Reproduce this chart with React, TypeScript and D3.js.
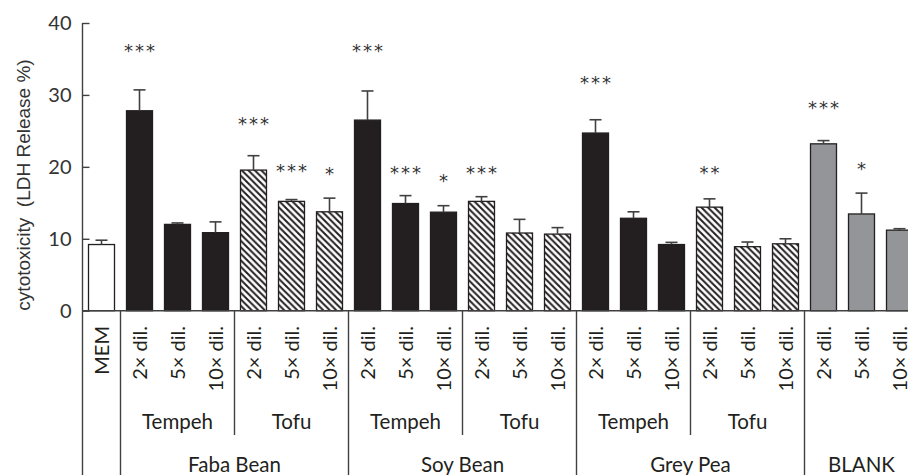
import React, { useEffect, useRef } from "react";
import * as d3 from "d3";

// dilution labels and groups
const dilutions = ["2× dil.", "5× dil.", "10× dil."];
const products = ["Tempeh", "Tofu"];
const foods = ["Faba Bean", "Soy Bean", "Grey Pea"];

// means (LDH release %) and upper error bars
const mem = [9.2];
const memErr = [0.6];
const fabaTempeh = [27.8, 12.0, 10.85];
const fabaTempehErr = [2.9, 0.2, 1.5];
const fabaTofu = [19.55, 15.2, 13.75];
const fabaTofuErr = [2.0, 0.25, 1.9];
const soyTempeh = [26.5, 14.9, 13.7];
const soyTempehErr = [4.05, 1.1, 0.9];
const soyTofu = [15.2, 10.8, 10.65];
const soyTofuErr = [0.65, 1.9, 0.9];
const greyTempeh = [24.7, 12.85, 9.2];
const greyTempehErr = [1.85, 0.9, 0.3];
const greyTofu = [14.4, 8.9, 9.3];
const greyTofuErr = [1.15, 0.65, 0.7];
const blank = [23.2, 13.45, 11.2];
const blankErr = [0.45, 2.9, 0.2];

// significance marks, and the height (in %) where each one sits
const fabaTempehSig = ["***", "", ""];
const fabaTofuSig = ["***", "***", "*"];
const soyTempehSig = ["***", "***", "*"];
const soyTofuSig = ["***", "", ""];
const greyTempehSig = ["***", "", ""];
const greyTofuSig = ["**", "", ""];
const blankSig = ["***", "*", ""];
const sigHeights = [0, 36.7, 0, 0, 26.5, 20.0, 19.6, 36.7, 19.7, 18.6, 19.7, 0, 0, 32.2, 0, 0, 19.8, 0, 0, 28.8, 20.3, 0];

const yTicks = [0, 10, 20, 30, 40];

type Bar = { idx: number; label: string; value: number; err: number; sig: string; kind: string };

function block(vals: number[], errs: number[], sig: string[], kind: string) {
  return vals.map((v, i) => ({ label: dilutions[i], value: v, err: errs[i], sig: sig[i], kind }));
}

const bars: Bar[] = [
  { label: "MEM", value: mem[0], err: memErr[0], sig: "", kind: "open" },
  ...block(fabaTempeh, fabaTempehErr, fabaTempehSig, "solid"),
  ...block(fabaTofu, fabaTofuErr, fabaTofuSig, "hatch"),
  ...block(soyTempeh, soyTempehErr, soyTempehSig, "solid"),
  ...block(soyTofu, soyTofuErr, soyTofuSig, "hatch"),
  ...block(greyTempeh, greyTempehErr, greyTempehSig, "solid"),
  ...block(greyTofu, greyTofuErr, greyTofuSig, "hatch"),
  ...block(blank, blankErr, blankSig, "gray"),
].map((b, i) => ({ ...b, idx: i }));

const W = 908, H = 475;
const ink = "#231f20";
const lineCol = "#404040";
const fills: Record<string, string> = { open: "#ffffff", solid: ink, hatch: "url(#hatch)", gray: "#939598" };

export default function App() {
  const ref = useRef<SVGSVGElement>(null);

  useEffect(() => {
    const svg = d3.select(ref.current);
    svg.selectAll("*").remove();

    const axisX = 82.5, y0 = 310.7, yTop = 23;
    const x = d3.scaleBand<number>().domain(d3.range(bars.length)).range([axisX, axisX + 38 * bars.length])
      .paddingInner(0.316).paddingOuter(0.158);
    const y = d3.scaleLinear().domain([0, 40]).range([y0, yTop]);
    const cx = (i: number) => (x(i) as number) + x.bandwidth() / 2;
    const step = x.step();

    const defs = svg.append("defs");
    const pat = defs.append("pattern").attr("id", "hatch").attr("patternUnits", "userSpaceOnUse")
      .attr("width", 6.5).attr("height", 6.5);
    pat.append("rect").attr("width", 6.5).attr("height", 6.5).attr("fill", "#fff");
    pat.append("path").attr("d", "M-1,-1L7.5,7.5M-1,5.5L1,7.5M5.5,-1L7.5,1")
      .attr("stroke", ink).attr("stroke-width", 2);

    const g = svg.append("g");

    // bars
    g.selectAll("rect.bar").data(bars).join("rect").attr("class", "bar")
      .attr("x", d => x(d.idx) as number)
      .attr("y", d => y(d.value))
      .attr("width", x.bandwidth())
      .attr("height", d => y0 - y(d.value))
      .attr("fill", d => fills[d.kind])
      .attr("stroke", ink).attr("stroke-width", 1.3);

    // error bars (upper only)
    const eg = g.selectAll("g.err").data(bars).join("g").attr("class", "err")
      .attr("stroke", lineCol).attr("stroke-width", 1.6);
    eg.append("line").attr("x1", d => cx(d.idx)).attr("x2", d => cx(d.idx))
      .attr("y1", d => y(d.value)).attr("y2", d => y(d.value + d.err));
    eg.append("line").attr("x1", d => cx(d.idx) - 6).attr("x2", d => cx(d.idx) + 6)
      .attr("y1", d => y(d.value + d.err)).attr("y2", d => y(d.value + d.err));

    // significance stars
    g.selectAll("text.sig").data(bars.filter(d => d.sig !== "")).join("text").attr("class", "sig")
      .attr("x", d => cx(d.idx) + 1)
      .attr("y", d => y(sigHeights[d.idx]))
      .attr("dy", "0.57em")
      .attr("text-anchor", "middle")
      .attr("font-family", "DejaVu Sans")
      .attr("font-size", 18)
      .attr("letter-spacing", 2)
      .attr("fill", "#333")
      .text(d => d.sig);

    // y axis
    const ya = g.append("g").attr("transform", `translate(${axisX},0)`)
      .call(d3.axisLeft(y).tickValues(yTicks).tickSizeInner(-7).tickSizeOuter(0).tickPadding(11));
    ya.select(".domain").remove();
    ya.selectAll(".tick line").attr("stroke", lineCol).attr("stroke-width", 1.4);
    ya.selectAll(".tick text").attr("font-family", "Lato").attr("font-size", 20).attr("fill", "#333");

    g.append("line").attr("x1", axisX).attr("x2", axisX).attr("y1", yTop).attr("y2", H)
      .attr("stroke", lineCol).attr("stroke-width", 1.4);
    g.append("line").attr("x1", axisX).attr("x2", W).attr("y1", y0).attr("y2", y0)
      .attr("stroke", lineCol).attr("stroke-width", 1.4);

    g.append("text").attr("transform", "translate(30,185) rotate(-90)")
      .attr("text-anchor", "middle").attr("font-family", "Liberation Sans, Arial")
      .attr("font-size", 19).attr("fill", "#333")
      .style("white-space", "pre")
      .text("cytotoxicity  (LDH Release %)");

    // bar labels (rotated)
    g.selectAll("text.bl").data(bars).join("text").attr("class", "bl")
      .attr("transform", d => `translate(${cx(d.idx) + 7.5},326) rotate(-90)`)
      .attr("text-anchor", "end").attr("font-family", "Lato").attr("font-size", 20)
      .attr("fill", ink).text(d => d.label);

    // separators: full lines between foods, shorter lines between products
    const bound = (i: number) => cx(i) - step / 2;
    const major = [1, 7, 13, 19];
    g.selectAll("line.major").data(major).join("line").attr("class", "major")
      .attr("x1", d => bound(d)).attr("x2", d => bound(d)).attr("y1", y0).attr("y2", H)
      .attr("stroke", lineCol).attr("stroke-width", 1.4);
    const minor = [4, 10, 16];
    g.selectAll("line.minor").data(minor).join("line").attr("class", "minor")
      .attr("x1", d => bound(d)).attr("x2", d => bound(d)).attr("y1", y0).attr("y2", 435)
      .attr("stroke", lineCol).attr("stroke-width", 1.4);

    // product labels
    const prodRows: { text: string; start: number }[] = [];
    foods.forEach((f, fi) => products.forEach((p, pi) => prodRows.push({ text: p, start: 1 + fi * 6 + pi * 3 })));
    g.selectAll("text.prod").data(prodRows).join("text").attr("class", "prod")
      .attr("x", d => cx(d.start + 1)).attr("y", 428.5)
      .attr("text-anchor", "middle").attr("font-family", "Lato").attr("font-size", 20.5)
      .attr("fill", ink).text(d => d.text);

    // food labels
    const foodRows = [...foods.map((f, fi) => ({ text: f, a: 1 + fi * 6, b: 6 + fi * 6 })), { text: "BLANK", a: 19, b: 21 }];
    g.selectAll("text.food").data(foodRows).join("text").attr("class", "food")
      .attr("x", d => (cx(d.a) + cx(d.b)) / 2).attr("y", 471.5)
      .attr("text-anchor", "middle").attr("font-family", "Lato").attr("font-size", 20.5)
      .attr("fill", ink).text(d => d.text);
  }, []);

  return (
    <svg ref={ref} width={W} height={H} style={{ position: "absolute", left: 0, top: 0, background: "#fff" }} />
  );
}
